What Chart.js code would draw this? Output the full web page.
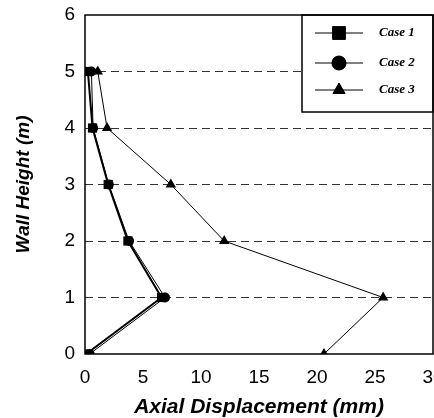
<!DOCTYPE html>
<html>
<head>
<meta charset="utf-8">
<script src="https://cdn.jsdelivr.net/npm/chart.js@4/dist/chart.umd.min.js"></script>
<style>
html,body{margin:0;padding:0;background:#fff;overflow:hidden;}
#wrap{width:434px;height:418px;}
</style>
</head>
<body>
<div id="wrap"><canvas id="c" width="434" height="418"></canvas></div>
<script>
// Wall heights (m)
const heights = [0, 1, 2, 3, 4, 5];
// Axial displacement (mm) per case
const case1 = [0.1, 6.6, 3.7, 2.0, 0.65, 0.25];
const case2 = [0.4, 6.9, 3.8, 2.05, 0.7, 0.55];
const case3 = [20.6, 25.7, 12.0, 7.4, 1.9, 1.1];
const seriesNames = ['Case 1', 'Case 2', 'Case 3'];
const yTicks = [0, 1, 2, 3, 4, 5, 6];
const xTicks = [0, 5, 10, 15, 20, 25, 30];

const pts = arr => arr.map((v, i) => ({x: v, y: heights[i]}));

// fix plot area position
const AREA = {left: 85, top: 15, right: 433, bottom: 354};
const fixArea = {
  id: 'fixArea',
  afterLayout(chart) {
    const ca = chart.chartArea;
    Object.assign(ca, AREA);
    ca.width = AREA.right - AREA.left;
    ca.height = AREA.bottom - AREA.top;
    const x = chart.scales.x, y = chart.scales.y;
    x.left = AREA.left; x.right = AREA.right; x.width = ca.width;
    x.top = AREA.bottom; x.bottom = 418; x.height = 418 - AREA.bottom;
    y.left = 0; y.right = AREA.left; y.width = AREA.left;
    y.top = AREA.top; y.bottom = AREA.bottom; y.height = ca.height;
    if (typeof x.configure === 'function') x.configure();
    if (typeof y.configure === 'function') y.configure();
  }
};

const legendPlugin = {
  id: 'boxLegend',
  afterDatasetsDraw(chart) {
    const ctx = chart.ctx;
    const ca = chart.chartArea;
    const left = 302, top = ca.top, right = ca.right, bottom = 112;
    ctx.save();
    ctx.fillStyle = '#fff';
    ctx.fillRect(left, top, right - left, bottom - top);
    ctx.strokeStyle = '#000';
    ctx.lineWidth = 1.5;
    ctx.strokeRect(left, top, right - left, bottom - top);
    const rows = [33, 63, 90];
    const styles = ['rect', 'circle', 'triangle'];
    const radii = [9, 7, 7];
    rows.forEach((y, i) => {
      ctx.strokeStyle = '#000';
      ctx.lineWidth = 1;
      ctx.beginPath();
      ctx.moveTo(315, y); ctx.lineTo(363, y);
      ctx.stroke();
      ctx.fillStyle = '#000';
      Chart.helpers.drawPoint(ctx, {pointStyle: styles[i], radius: radii[i], borderWidth: 1}, 339, y);
      ctx.fill();
      ctx.font = 'italic bold 13px "Liberation Serif", serif';
      ctx.textBaseline = 'middle';
      ctx.textAlign = 'left';
      ctx.fillText(seriesNames[i], 379, y);
    });
    // plot frame
    ctx.strokeStyle = '#000';
    ctx.lineWidth = 1.5;
    ctx.strokeRect(ca.left, ca.top, ca.right - ca.left, ca.bottom - ca.top);
    ctx.restore();
  }
};

new Chart(document.getElementById('c'), {
  type: 'scatter',
  data: {
    datasets: [
      {label: seriesNames[0], data: pts(case1), showLine: true, borderColor: '#000', backgroundColor: '#000',
       borderWidth: 2, pointStyle: 'rect', pointRadius: 6.5, pointBorderWidth: 0, tension: 0},
      {label: seriesNames[1], data: pts(case2), showLine: true, borderColor: '#000', backgroundColor: '#000',
       borderWidth: 1, pointStyle: 'circle', pointRadius: 5, pointBorderWidth: 0, tension: 0},
      {label: seriesNames[2], data: pts(case3), showLine: true, borderColor: '#000', backgroundColor: '#000',
       borderWidth: 1, pointStyle: 'triangle', pointRadius: 6, pointBorderWidth: 0, tension: 0}
    ]
  },
  options: {
    responsive: false,
    animation: false,
    devicePixelRatio: 1,
    layout: {padding: {left: 0, right: 1, top: 15, bottom: 0}},
    plugins: {legend: {display: false}, tooltip: {enabled: false}},
    scales: {
      x: {
        type: 'linear', min: 0, max: 30,
        afterBuildTicks: s => { s.ticks = xTicks.map(v => ({value: v})); },
        afterFit: s => { s.height = 64; s.paddingLeft = 0; s.paddingRight = 0; },
        grid: {display: false, drawTicks: false},
        border: {display: false},
        ticks: {color: '#000', padding: 12, font: {family: '"Liberation Sans", Arial, sans-serif', size: 19}},
        title: {display: true, text: 'Axial Displacement (mm)', color: '#000', padding: {top: 0, bottom: -2},
                font: {family: '"Liberation Sans", Arial, sans-serif', size: 21, weight: 'bold', style: 'italic'}}
      },
      y: {
        type: 'linear', min: 0, max: 6,
        afterBuildTicks: s => { s.ticks = yTicks.map(v => ({value: v})); },
        afterFit: s => { s.width = 85; s.paddingTop = 0; s.paddingBottom = 0; },
        grid: {drawTicks: false, lineWidth: 1,
               color: c => (c.tick && (c.tick.value === 0 || c.tick.value === 6)) ? 'rgba(0,0,0,0)' : '#333'},
        border: {display: false, dash: [8, 5]},
        ticks: {color: '#000', padding: 10, font: {family: '"Liberation Sans", Arial, sans-serif', size: 19}},
        title: {display: true, text: 'Wall Height (m)', color: '#000', padding: {top: 12, bottom: 0},
                font: {family: '"Liberation Sans", Arial, sans-serif', size: 19, weight: 'bold', style: 'italic'}}
      }
    }
  },
  plugins: [fixArea, legendPlugin]
});
</script>
</body>
</html>
